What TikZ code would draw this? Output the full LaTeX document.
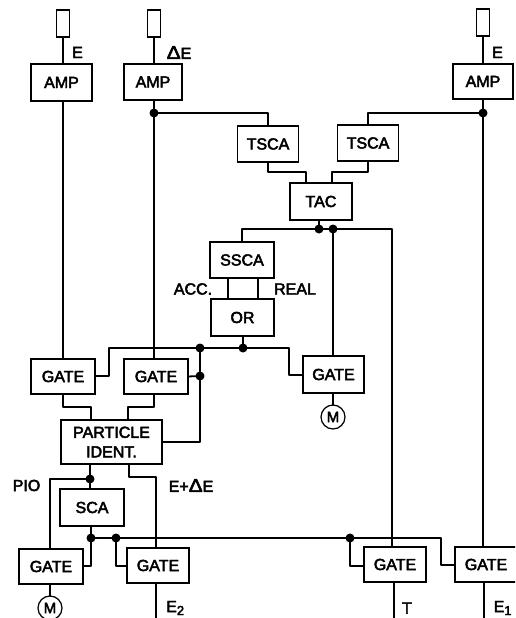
\documentclass[tikz,border=0pt]{standalone}
\usepackage{fontspec}
\setmainfont[FakeBold=3]{Liberation Sans}
\tikzset{
  bx/.style={draw,line width=1.25pt,inner sep=0pt,outer sep=0pt,align=center,font=\fontsize{16}{20}\selectfont},
  det/.style={draw,line width=1.25pt,inner sep=0pt,outer sep=0pt,minimum width=13pt,minimum height=27pt},
  mon/.style={draw,circle,line width=1.25pt,inner sep=0pt,outer sep=0pt,minimum size=24pt,font=\fontsize{15}{16}\selectfont},
  dot/.style={circle,fill=black,inner sep=0pt,outer sep=0pt,minimum size=9pt},
  lab/.style={inner sep=0pt,font=\fontsize{16}{18}\selectfont},
  wire/.style={line width=1.8pt,line cap=round,line join=round},
}
\newcommand{\dlt}{\scalebox{1.3}[1.15]{Δ}}
\begin{document}
\begin{tikzpicture}[x=1pt,y=-1pt]
\useasboundingbox (0,0) rectangle (515,618);
\clip (0,0) rectangle (515,618);
% detectors
\node[det] (d1) at (63,23.5) {};
\node[det] (d2) at (154,23.5) {};
\node[det] (d3) at (483,22.5) {};
% boxes
\node[bx,minimum width=61pt,minimum height=37pt] (amp1) at (61.5,82.5) {AMP};
\node[bx,minimum width=58pt,minimum height=36pt] (amp2) at (153,82) {AMP};
\node[bx,minimum width=60pt,minimum height=35pt] (amp3) at (483,81.5) {AMP};
\node[bx,minimum width=61pt,minimum height=36pt] (ts1) at (268,144) {TSCA};
\node[bx,minimum width=61pt,minimum height=36pt] (ts2) at (368,143) {TSCA};
\node[bx,minimum width=62pt,minimum height=37pt] (tac) at (321,201.5) {TAC};
\node[bx,minimum width=64pt,minimum height=36pt] (ssca) at (242,260) {SSCA};
\node[bx,minimum width=63pt,minimum height=37pt] (or) at (242.5,317.5) {OR};
\node[bx,minimum width=64pt,minimum height=35pt] (g1) at (63,376.5) {GATE};
\node[bx,minimum width=64pt,minimum height=35pt] (g2) at (156,376.5) {GATE};
\node[bx,minimum width=61pt,minimum height=37pt] (g3) at (333.5,374.5) {GATE};
\node[bx,minimum width=101pt,minimum height=44pt] (pid) at (111.5,442) {PARTICLE\\[-0.5pt]IDENT.};
\node[bx,minimum width=64pt,minimum height=37pt] (sca) at (92,507.5) {SCA};
\node[bx,minimum width=64pt,minimum height=35pt] (g4) at (51,566.5) {GATE};
\node[bx,minimum width=62pt,minimum height=35pt] (g5) at (158,565.5) {GATE};
\node[bx,minimum width=62pt,minimum height=35pt] (g6) at (395,564.5) {GATE};
\node[bx,minimum width=62pt,minimum height=35pt] (g7) at (486,564.5) {GATE};
\node[mon] (m1) at (333,417) {M};
\node[mon] (m2) at (50,608) {M};
% junctions
\node[dot] (j1) at (154,113) {};
\node[dot] (j2) at (483,113) {};
\node[dot] (j3) at (319,229) {};
\node[dot] (j4) at (333,229) {};
\node[dot] (j5) at (200,348) {};
\node[dot] (j6) at (243,348) {};
\node[dot] (j7) at (200,376) {};
\node[dot] (j8) at (90,479) {};
\node[dot] (j9) at (91,538) {};
\node[dot] (j10) at (116,538) {};
\node[dot] (j11) at (350,538) {};
% free ends and bends
\coordinate (e2) at (156,618);
\coordinate (et) at (394,618);
\coordinate (e1) at (484,618);
\coordinate (r) at (392,229);
% connectors
\begin{scope}[wire]
\draw (d1.south) -- (d1.south |- amp1.north);
\draw (d2.south) -- (j1 |- amp2.north);
\draw (d3.south) -- (d3.south |- amp3.north);
\draw (j1 |- amp2.south) -- (j1.center) -- (j1 |- g2.north);
\draw (j2 |- amp3.south) -- (j2.center) -- (j2 |- g7.north);
\draw (d1.south |- amp1.south) -- (d1.south |- g1.north);
\draw (j1.center) -| (ts1.north);
\draw (j2.center) -| (ts2.north);
\draw (ts1.south) |- (306,172) -- (306,183);
\draw (ts2.south) |- (332,172) -- (332,183);
\draw (j3 |- tac.south) -- (j3.center);
\draw (ssca.north) |- (j3.center) -- (j4.center) -- (r) -- (392,547);
\draw (j4.center) -- (j4 |- g3.north);
\draw (228,278) -- (228,299);
\draw (258,278) -- (258,299);
\draw (j6 |- or.south) -- (j6.center);
\draw (g1.east |- 0,376) -- (109,376) -- (109,348) -- (j5.center) -- (j6.center) -- (289,348) -- (289,375) -- (g3.west |- 0,375);
\draw (g2.east) -- (j7.center);
\draw (j5.center) -- (j7.center) -- (200,442) -- (pid.east |- 0,442);
\draw (j4 |- g3.south) -- (m1.north);
\draw (63,394) -- (63,407) -- (91,407) -- (91,420);
\draw (154,394) -- (154,407) -- (128,407) -- (128,420);
\draw (j8 |- pid.south) -- (j8.center) -- (j8 |- sca.north);
\draw (j8.center) -- (50,479) -- (50,549);
\draw (129,464) -- (129,477) -- (156,477) -- (156,548);
\draw (j9 |- sca.south) -- (j9.center) -- (91,566) -- (g4.east |- 0,566);
\draw (j9.center) -- (j10.center) -- (j11.center) -- (441,538) -- (441,565) -- (g7.west |- 0,565);
\draw (j10.center) -- (116,566) -- (g5.west |- 0,566);
\draw (j11.center) -- (350,566) -- (g6.west |- 0,566);
\draw (50,584) -- (m2.north);
\draw (e2 |- g5.south) -- (e2);
\draw (et |- g6.south) -- (et);
\draw (e1 |- g7.south) -- (e1);
\end{scope}
% labels
\node[lab] (lE1) at (77.5,52.5) {E};
\node[lab] (lDE) at (179,52.5) {\dlt E};
\node[lab] (lE3) at (497.5,52.5) {E};
\node[lab] (lACC) at (193,289) {ACC.};
\node[lab] (lREAL) at (295,289) {REAL};
\node[lab] (lPIO) at (26.5,485.5) {PIO};
\node[lab] (lED) at (191,485.5) {E+\dlt E};
\node[lab,anchor=west] (lE2) at (166,608) {E\raisebox{-3pt}{\fontsize{13}{14}\selectfont 2}};
\node[lab] (lT) at (407,608) {T};
\node[lab,anchor=west] (lEa) at (493.5,608) {E\raisebox{-3pt}{\fontsize{13}{14}\selectfont 1}};
\end{tikzpicture}
\end{document}
